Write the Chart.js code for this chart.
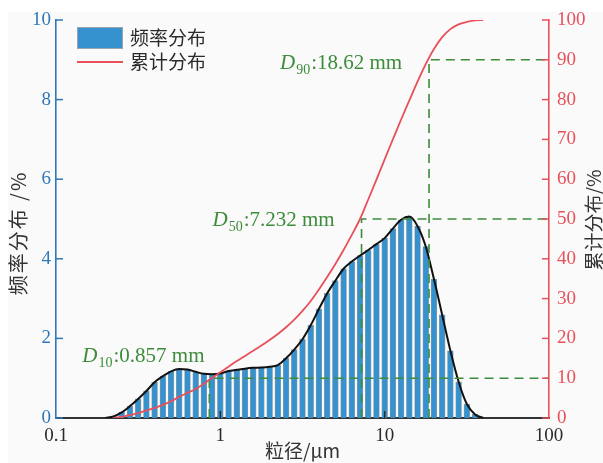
<!DOCTYPE html>
<html>
<head>
<meta charset="utf-8">
<script src="https://cdn.jsdelivr.net/npm/chart.js@4/dist/chart.umd.min.js"></script>
<style>
  html, body { margin: 0; padding: 0; background: #ffffff; }
  canvas { display: block; }
</style>
</head>
<body>
<canvas id="psd" width="603" height="463"></canvas>
<script>
// Particle size classes (µm), log-spaced bins
const sizes = [
  0.200, 0.224, 0.251, 0.282, 0.316, 0.355, 0.398, 0.447, 0.501, 0.562,
  0.631, 0.708, 0.794, 0.891, 1.000, 1.122, 1.259, 1.413, 1.585, 1.778,
  1.995, 2.239, 2.512, 2.818, 3.162, 3.548, 3.981, 4.467, 5.012, 5.623,
  6.310, 7.079, 7.943, 8.913, 10.00, 11.22, 12.59, 14.13, 15.85, 17.78,
  19.95, 22.39, 25.12, 28.18, 31.62, 35.48, 39.81
];

// Frequency distribution (%) per size class
const frequency = [
  0.00, 0.04, 0.14, 0.30, 0.48, 0.68, 0.90, 1.05, 1.17, 1.23,
  1.22, 1.16, 1.11, 1.10, 1.12, 1.18, 1.21, 1.24, 1.26, 1.27,
  1.29, 1.33, 1.50, 1.72, 1.98, 2.33, 2.74, 3.13, 3.45, 3.75,
  3.93, 4.08, 4.22, 4.37, 4.52, 4.76, 4.98, 5.06, 4.82, 4.31,
  3.49, 2.59, 1.69, 0.91, 0.35, 0.09, 0.00
];

// Cumulative distribution (%) per size class
const cumulative = [
  null, 0.0, 0.3, 0.7, 1.2, 1.9, 2.5, 3.3, 4.2, 5.3,
  6.3, 7.3, 8.6, 10.1, 11.5, 12.9, 14.3, 15.6, 16.9, 18.2,
  19.6, 21.1, 22.8, 24.7, 26.9, 29.4, 32.3, 35.4, 38.7, 42.2,
  46.0, 50.0, 54.9, 59.9, 65.0, 70.0, 75.0, 79.8, 84.5, 88.9,
  92.7, 95.7, 97.7, 98.9, 99.5, 99.9, 100.0
];

// Characteristic diameters
const dNames = ['10', '50', '90'];
const dSizes = [0.857, 7.232, 18.62];
const dPercents = [10, 50, 90];

// Axis ticks
const xTicks = [0.1, 1, 10, 100];
const xTickLabels = ['0.1', '1', '10', '100'];
const yTicks = [0, 2, 4, 6, 8, 10];
const y2Ticks = [0, 10, 20, 30, 40, 50, 60, 70, 80, 90, 100];

const BLUE = '#2f78b8';
const BAR_BLUE = '#3592cf';
const RED = '#e8505a';
const GREEN = '#3c8c3c';
const DARK = '#2a2a2a';
const SERIF = '"Liberation Serif", "Noto Sans CJK SC", serif';
const CJK = '"Noto Sans CJK SC", "Liberation Serif", sans-serif';

const barData = sizes.map((s, i) => ({ x: s, y: frequency[i] }));
const cumData = sizes.map((s, i) => ({ x: s, y: cumulative[i] }));
const guideSets = dSizes.map((d, i) => ({
  type: 'line',
  data: [{ x: d, y: 0 }, { x: d, y: dPercents[i] }, { x: 100, y: dPercents[i] }],
  yAxisID: 'y2',
  borderColor: GREEN,
  borderWidth: 1.6,
  borderDash: [9, 6],
  pointRadius: 0,
  tension: 0,
  order: 2
}));

// Backdrop, inward tick marks, legend, annotations and axis titles
const decor = {
  id: 'decor',
  beforeDraw(chart) {
    const { ctx } = chart;
    ctx.save();
    ctx.fillStyle = '#ffffff';
    ctx.fillRect(0, 0, chart.width, chart.height);
    ctx.fillStyle = '#fafafa';
    ctx.fillRect(8, 12, chart.width - 8, chart.height - 12);
    ctx.restore();
  },
  afterDraw(chart) {
    const { ctx, chartArea: a, scales } = chart;
    ctx.save();

    // tick marks pointing into the plot
    ctx.lineWidth = 1.5;
    ctx.strokeStyle = BLUE;
    yTicks.forEach(v => {
      const y = scales.y.getPixelForValue(v);
      ctx.beginPath(); ctx.moveTo(a.left, y); ctx.lineTo(a.left + 7, y); ctx.stroke();
    });
    ctx.strokeStyle = RED;
    y2Ticks.forEach(v => {
      const y = scales.y2.getPixelForValue(v);
      ctx.beginPath(); ctx.moveTo(a.right, y); ctx.lineTo(a.right - 7, y); ctx.stroke();
    });
    ctx.strokeStyle = DARK;
    xTicks.slice(1, -1).forEach(v => {
      const x = scales.x.getPixelForValue(v);
      ctx.beginPath(); ctx.moveTo(x, a.bottom); ctx.lineTo(x, a.bottom - 7); ctx.stroke();
    });

    // legend
    ctx.fillStyle = BAR_BLUE;
    ctx.fillRect(77, 27, 46, 22);
    ctx.strokeStyle = '#9aa4ad';
    ctx.lineWidth = 1;
    ctx.strokeRect(77.5, 27.5, 45, 21);
    ctx.strokeStyle = RED;
    ctx.lineWidth = 2;
    ctx.beginPath(); ctx.moveTo(77, 62); ctx.lineTo(123, 62); ctx.stroke();
    ctx.fillStyle = DARK;
    ctx.font = '19px ' + CJK;
    ctx.textAlign = 'left';
    ctx.textBaseline = 'middle';
    ctx.fillText('频率分布', 130, 38);
    ctx.fillText('累计分布', 130, 62);

    // D-value annotations
    const place = [{ dx: -127, dy: -16 }, { dx: -149, dy: 7 }, { dx: -149, dy: 9 }];
    ctx.fillStyle = GREEN;
    ctx.textBaseline = 'alphabetic';
    dSizes.forEach((d, i) => {
      let x = scales.x.getPixelForValue(d) + place[i].dx;
      const y = scales.y2.getPixelForValue(dPercents[i]) + place[i].dy;
      ctx.font = 'italic 21px ' + SERIF;
      ctx.fillText('D', x, y);
      x += ctx.measureText('D').width + 1;
      ctx.font = '14px ' + SERIF;
      ctx.fillText(dNames[i], x, y + 5);
      x += ctx.measureText(dNames[i]).width + 1;
      ctx.font = '21px ' + SERIF;
      ctx.fillText(':' + d + ' mm', x, y);
    });

    // axis titles
    ctx.fillStyle = '#333333';
    ctx.textAlign = 'center';
    ctx.textBaseline = 'middle';
    ctx.font = '19px ' + CJK;
    ctx.fillText('粒径/μm', (a.left + a.right) / 2, 451);
    ctx.save();
    ctx.translate(18, 233);
    ctx.rotate(-Math.PI / 2);
    ctx.font = '20px ' + CJK;
    ctx.letterSpacing = '2px';
    ctx.fillText('频率分布 /%', 0, 0);
    ctx.restore();
    ctx.save();
    ctx.translate(594, 220);
    ctx.rotate(-Math.PI / 2);
    ctx.font = '19px ' + CJK;
    ctx.fillText('累计分布/%', 0, 0);
    ctx.restore();

    ctx.restore();
  }
};

new Chart(document.getElementById('psd'), {
  type: 'bar',
  data: {
    datasets: [
      {
        type: 'line',
        data: cumData,
        yAxisID: 'y2',
        borderColor: RED,
        borderWidth: 1.8,
        pointRadius: 0,
        cubicInterpolationMode: 'monotone',
        spanGaps: false,
        order: 1
      },
      ...guideSets,
      {
        type: 'line',
        data: barData,
        yAxisID: 'y',
        borderColor: '#111111',
        borderWidth: 2,
        pointRadius: 0,
        cubicInterpolationMode: 'monotone',
        order: 3
      },
      {
        type: 'bar',
        data: barData,
        yAxisID: 'y',
        backgroundColor: BAR_BLUE,
        borderColor: 'rgba(70,80,90,0.55)',
        borderWidth: 0.7,
        barThickness: 5.8,
        order: 4
      }
    ]
  },
  options: {
    responsive: false,
    devicePixelRatio: 1,
    animation: false,
    layout: { padding: { top: 20, left: 0, right: 0, bottom: 0 } },
    plugins: { legend: { display: false }, tooltip: { enabled: false } },
    scales: {
      x: {
        type: 'logarithmic',
        position: 'bottom',
        min: 0.1,
        max: 100,
        offset: false,
        afterBuildTicks: s => { s.ticks = xTicks.map(v => ({ value: v })); },
        afterFit: s => { s.height = 45; },
        grid: { display: false, drawTicks: false },
        border: { display: true, color: '#333333', width: 2 },
        ticks: {
          autoSkip: false,
          maxRotation: 0,
          padding: 7,
          color: DARK,
          font: { family: SERIF, size: 19 },
          callback: (v) => xTickLabels[xTicks.indexOf(v)] ?? ''
        }
      },
      y: {
        position: 'left',
        min: 0,
        max: 10,
        afterBuildTicks: s => { s.ticks = yTicks.map(v => ({ value: v })); },
        afterFit: s => { s.width = 56; },
        grid: { display: false, drawTicks: false },
        border: { display: true, color: BLUE, width: 1.6 },
        ticks: {
          padding: 5,
          color: BLUE,
          font: { family: SERIF, size: 19 }
        }
      },
      y2: {
        position: 'right',
        min: 0,
        max: 100,
        afterBuildTicks: s => { s.ticks = y2Ticks.map(v => ({ value: v })); },
        afterFit: s => { s.width = 54; },
        grid: { display: false, drawTicks: false },
        border: { display: true, color: RED, width: 1.6 },
        ticks: {
          padding: 8,
          color: RED,
          font: { family: SERIF, size: 19 }
        }
      }
    }
  },
  plugins: [decor]
});
</script>
</body>
</html>
